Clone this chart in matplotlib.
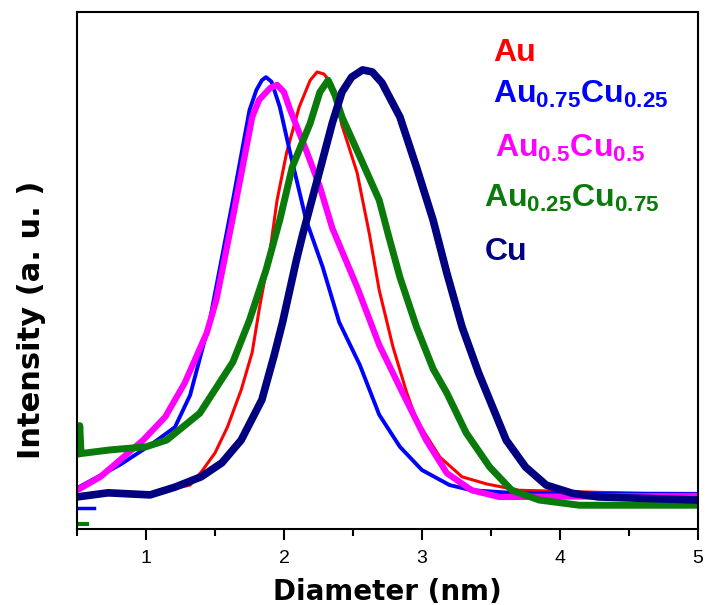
import matplotlib
matplotlib.use("Agg")
import matplotlib.pyplot as plt
from matplotlib.ticker import MultipleLocator

plt.rcParams['font.family'] = ['Liberation Sans', 'DejaVu Sans']
plt.rcParams['mathtext.fontset'] = 'custom'
plt.rcParams['mathtext.rm'] = 'Liberation Sans:bold'
plt.rcParams['mathtext.bf'] = 'Liberation Sans:bold'

# Diameter (nm) / intensity (a.u.)
au_x = [0.50, 1.03, 1.32, 1.40, 1.50, 1.59, 1.69, 1.77, 1.82, 1.90, 1.95, 2.02, 2.11, 2.19, 2.24,
        2.29, 2.35, 2.42, 2.53, 2.62, 2.69, 2.79, 2.89, 2.96, 3.13, 3.29, 3.47, 3.70, 5.00]
au_y = [6.6, 6.8, 8.5, 11.0, 14.7, 19.7, 26.9, 34.2, 42.4, 54.0, 63.6, 72.9, 81.6, 86.8, 88.4,
        88.0, 85.9, 78.1, 68.9, 56.9, 46.2, 35.2, 26.3, 21.1, 13.9, 10.1, 8.7, 7.5, 6.6]

au75_x = [0.50, 0.81, 1.03, 1.21, 1.32, 1.46, 1.63, 1.75, 1.80, 1.84, 1.87, 1.91, 1.97, 2.04,
          2.16, 2.28, 2.40, 2.55, 2.69, 2.84, 3.00, 3.20, 3.36, 3.70, 5.00]
au75_y = [7.9, 12.4, 16.2, 19.7, 25.9, 40.0, 63.6, 81.0, 84.9, 86.8, 87.4, 86.5, 81.6, 73.3,
          59.8, 50.7, 40.0, 31.7, 22.1, 15.9, 11.4, 8.5, 7.5, 6.9, 6.8]
au75_frag_x = [0.50, 0.62]
au75_frag_y = [4.1, 4.1]

au50_x = [0.50, 0.67, 0.98, 1.14, 1.28, 1.44, 1.51, 1.63, 1.77, 1.82, 1.90, 1.95, 2.00, 2.04,
          2.16, 2.26, 2.35, 2.53, 2.69, 2.86, 3.03, 3.18, 3.36, 3.56, 5.00]
au50_y = [7.5, 10.1, 17.2, 21.7, 28.2, 37.9, 44.3, 60.3, 79.7, 83.0, 85.3, 85.9, 84.5, 81.4,
          73.3, 66.2, 58.2, 46.8, 35.6, 26.3, 17.2, 10.8, 7.5, 6.2, 6.4]

au25_x = [0.50, 0.515, 0.52, 0.53, 0.74, 1.00, 1.15, 1.39, 1.63, 1.75, 1.87, 1.97, 2.06, 2.19,
          2.26, 2.32, 2.37, 2.42, 2.55, 2.69, 2.76, 2.84, 2.96, 3.08, 3.18, 3.32, 3.49, 3.65,
          3.85, 4.14, 5.00]
au25_y = [14.7, 14.5, 20.0, 14.6, 15.3, 15.9, 17.2, 22.4, 32.3, 40.4, 50.1, 59.8, 70.0, 78.5,
          84.5, 86.8, 83.9, 79.7, 72.0, 63.6, 56.5, 48.7, 39.1, 31.0, 26.3, 18.6, 12.0, 7.5,
          5.6, 4.6, 4.6]
au25_frag_x = [0.50, 0.57]
au25_frag_y = [0.9, 0.9]

cu_x = [0.50, 0.725, 1.03, 1.21, 1.40, 1.55, 1.69, 1.84, 1.93, 1.99, 2.09, 2.135, 2.26, 2.35,
        2.42, 2.49, 2.57, 2.64, 2.71, 2.84, 2.96, 3.08, 3.18, 3.29, 3.41, 3.49, 3.61, 3.75,
        3.90, 4.09, 4.28, 5.00]
cu_y = [6.2, 7.0, 6.6, 8.1, 10.1, 12.8, 17.2, 25.0, 33.7, 40.0, 52.0, 56.9, 69.4, 78.5,
        84.5, 87.4, 88.8, 88.4, 86.3, 79.7, 70.0, 59.8, 49.5, 39.1, 30.2, 25.0, 17.2, 12.0,
        8.5, 6.9, 6.2, 5.6]

labels = ['Au', r'$\mathregular{Au_{0.75}Cu_{0.25}}$', r'$\mathregular{Au_{0.5}Cu_{0.5}}$',
          r'$\mathregular{Au_{0.25}Cu_{0.75}}$', 'Cu']
colors = ['#ff0000', '#0000ff', '#ff00ff', '#0a7a0a', '#000080']

fig = plt.figure(figsize=(7.06, 6.05), dpi=100)
ax = fig.add_axes([0.109, 0.1256, 0.8797, 0.8546])

kw = dict(solid_joinstyle='round', solid_capstyle='butt')
ax.plot(au_x, au_y, color=colors[0], lw=2.2, **kw)
ax.plot(au75_x, au75_y, color=colors[1], lw=2.8, **kw)
ax.plot(au75_frag_x, au75_frag_y, color=colors[1], lw=2.5)
ax.plot(au50_x, au50_y, color=colors[2], lw=4.5, **kw)
ax.plot(au25_x, au25_y, color=colors[3], lw=5.0, **kw)
ax.plot(au25_frag_x, au25_frag_y, color=colors[3], lw=3.0)
ax.plot(cu_x, cu_y, color=colors[4], lw=5.5, **kw)

ax.set_xlim(0.5, 5)
ax.set_ylim(0, 100)
ax.xaxis.set_major_locator(MultipleLocator(1))
ax.xaxis.set_minor_locator(MultipleLocator(0.5))
ax.set_yticks([])
ax.tick_params(axis='x', which='major', direction='out', length=8, width=1.5, labelsize=14, pad=7)
ax.tick_params(axis='x', which='minor', direction='out', length=5, width=1.5)
for s in ax.spines.values():
    s.set_linewidth(1.5)

ax.set_xlabel('Diameter (nm)', fontsize=20, fontweight='bold', family='DejaVu Sans', labelpad=8)
ax.set_ylabel('Intensity (a. u. )', fontsize=22, fontweight='bold', family='DejaVu Sans')
ax.yaxis.set_label_coords(-0.05, 0.404)

# labels placed in axes fraction (left edge, baseline)
label_pos = [(0.670, 0.905), (0.670, 0.824), (0.673, 0.720), (0.655, 0.623), (0.657, 0.520)]
for lab, c, (lx, ly) in zip(labels, colors, label_pos):
    ax.text(lx, ly, lab, color=c, fontsize=23, fontweight='bold', transform=ax.transAxes,
            ha='left', va='baseline')

fig.savefig('out.png', dpi=100)
